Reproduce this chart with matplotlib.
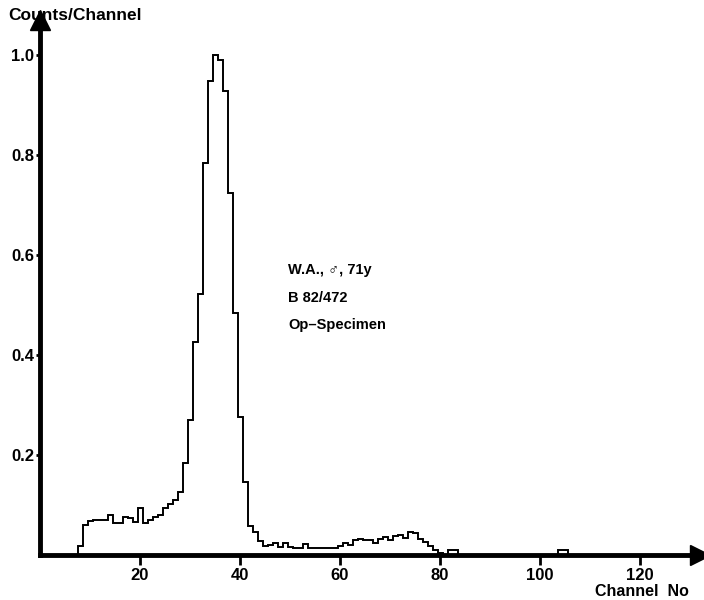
import numpy as np
import matplotlib
matplotlib.use("Agg")
import matplotlib.pyplot as plt

plt.rcParams['font.family'] = ['Liberation Sans', 'DejaVu Sans']
plt.rcParams['font.weight'] = 'bold'

# histogram, one value per channel (normalised to peak = 1.0)
first_channel = 6
counts = [
    0.0, 0.0, 0.018, 0.06, 0.068, 0.07, 0.07, 0.07, 0.08, 0.064,      # 6-15
    0.064, 0.076, 0.074, 0.066, 0.094, 0.064, 0.07, 0.076, 0.08, 0.094,  # 16-25
    0.102, 0.11, 0.126, 0.184, 0.27, 0.426, 0.522, 0.784, 0.948, 1.0,   # 26-35
    0.99, 0.928, 0.724, 0.484, 0.276, 0.146, 0.058, 0.046, 0.028, 0.018,  # 36-45
    0.02, 0.024, 0.016, 0.024, 0.016, 0.014, 0.014, 0.022, 0.014, 0.014,  # 46-55
    0.014, 0.014, 0.014, 0.014, 0.018, 0.024, 0.02, 0.03, 0.032, 0.03,  # 56-65
    0.03, 0.024, 0.032, 0.036, 0.03, 0.038, 0.04, 0.034, 0.046, 0.044,  # 66-75
    0.032, 0.026, 0.018, 0.01, 0.004, 0.0, 0.01, 0.01, 0.0, 0.0,        # 76-85
    0.0, 0.0, 0.0, 0.0, 0.0, 0.0, 0.0, 0.0, 0.0, 0.0,                   # 86-95
    0.0, 0.0, 0.0, 0.0, 0.0, 0.0, 0.0, 0.0, 0.01, 0.01,                 # 96-105
    0.0, 0.0,
]
channels = np.arange(first_channel, first_channel + len(counts))

x_ticks = [20, 40, 60, 80, 100, 120]
y_ticks = [0.2, 0.4, 0.6, 0.8, 1.0]
note_lines = ["W.A., \u2642, 71y", "B 82/472", "Op\u2013Specimen"]

fig = plt.figure(figsize=(7.04, 6.0), dpi=100)
ax = fig.add_axes([40 / 704, 45 / 600, 660 / 704, 535 / 600])

edges = np.append(channels - 0.5, channels[-1] + 0.5)
ax.stairs(counts, edges, color='black', lw=1.4, baseline=None)

ax.set_xlim(0, 132)
ax.set_ylim(0, 1.07)

for s in ['top', 'right']:
    ax.spines[s].set_visible(False)
for s in ['left', 'bottom']:
    ax.spines[s].set_linewidth(3.5)
    ax.spines[s].set_zorder(5)

# arrow heads at the axis ends
ax.plot(1, 0, marker='>', color='black', markersize=14, transform=ax.transAxes, clip_on=False, zorder=6)
ax.plot(0, 1, marker='^', color='black', markersize=14, transform=ax.transAxes, clip_on=False, zorder=6)

ax.set_xticks(x_ticks)
ax.set_yticks(y_ticks)
ax.set_yticklabels([f"{v:.1f}" for v in y_ticks])
ax.tick_params(axis='x', length=7, width=2, labelsize=12, pad=2)
ax.tick_params(axis='y', length=3, width=2, labelsize=12, pad=1)
for lab in ax.get_xticklabels() + ax.get_yticklabels():
    lab.set_fontweight('bold')

fig.text(8 / 704, 1 - 15 / 600, "Counts/Channel", fontsize=12.5, fontweight='bold', va='center', ha='left')
fig.text(689 / 704, 1 - 592 / 600, "Channel  No", fontsize=11.5, fontweight='bold', va='center', ha='right')

for i, line in enumerate(note_lines):
    fig.text(288 / 704, 1 - (270 + 27.5 * i) / 600, line, fontsize=10.5, fontweight='bold', va='center', ha='left')

fig.savefig("out.png", dpi=100)
